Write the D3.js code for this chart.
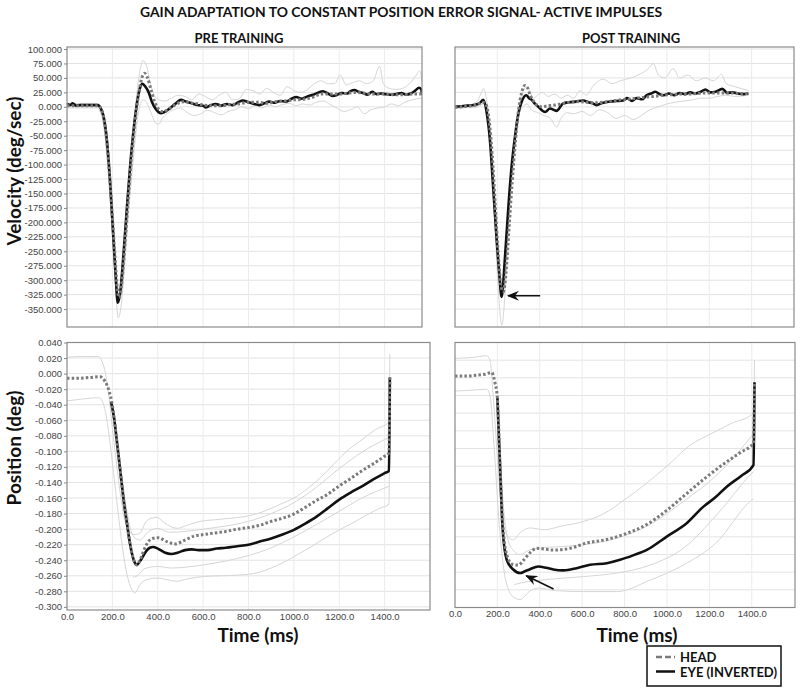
<!DOCTYPE html>
<html>
<head>
<meta charset="utf-8">
<script src="https://cdn.jsdelivr.net/npm/d3@7"></script>
<style>
  body { margin: 0; background: #fff; }
  svg { display: block; font-family: "Liberation Sans", Arial, sans-serif; }
  .bold { font-family: Lato, "Open Sans", sans-serif; font-weight: 700; fill: #111; }
</style>
</head>
<body>
<svg id="chart" width="800" height="690"></svg>
<script>
// ---- data (time ms, value) ----
var velTicks = [100, 75, 50, 25, 0, -25, -50, -75, -100, -125, -150, -175, -200, -225, -250, -275, -300, -325, -350];
var posTicks = [0.04, 0.02, 0, -0.02, -0.04, -0.06, -0.08, -0.1, -0.12, -0.14, -0.16, -0.18, -0.2, -0.22, -0.24, -0.26, -0.28, -0.3];
var postPosGrid = [0, -0.02, -0.04, -0.06, -0.08, -0.1, -0.12, -0.14, -0.16, -0.18, -0.2, -0.22, -0.24, -0.26];
var timeTicks = [0, 200, 400, 600, 800, 1000, 1200, 1400];

// PRE TRAINING velocity (deg/sec)
var preEyeVel = [[0,5],[15,3],[25,6],[40,2],[60,3],[90,3],[120,3],[135,3],[148,-2],[160,-15],[175,-55],[190,-130],[205,-230],[215,-295],[224,-339],[235,-320],[250,-250],[265,-170],[280,-95],[295,-35],[310,10],[322,33],[333,40],[345,35],[360,25],[375,8],[392,-4],[414,-11],[435,-8],[455,-2],[480,6],[502,12],[525,9],[550,6],[575,3],[600,2],[612,-1],[635,3],[656,5],[680,2],[705,5],[730,3],[755,8],[775,11],[800,8],[825,5],[848,3],[870,6],[892,9],[915,7],[940,10],[965,9],[990,14],[1010,17],[1035,14],[1060,18],[1085,21],[1110,25],[1128,27],[1150,23],[1170,19],[1187,20],[1210,24],[1235,23],[1250,27],[1268,29],[1285,26],[1305,24],[1325,21],[1345,26],[1365,22],[1385,23],[1405,22],[1425,21],[1452,22],[1475,24],[1495,21],[1515,23],[1535,28],[1552,33],[1562,30],[1565,21]];
var preHeadVel = [[0,2],[30,2],[60,2],[90,2],[120,2],[137,2],[150,-4],[165,-25],[180,-80],[195,-160],[210,-250],[222,-315],[230,-330],[240,-310],[255,-240],[270,-160],[285,-85],[300,-25],[315,20],[330,50],[342,58],[355,50],[370,30],[385,10],[400,-2],[420,-8],[440,-6],[460,-1],[480,4],[500,8],[520,9],[540,7],[560,6],[580,5],[600,3],[640,2],[680,2],[720,4],[760,5],[800,8],[840,8],[880,6],[920,9],[960,10],[1000,12],[1040,13],[1080,16],[1120,22],[1160,22],[1200,22],[1240,24],[1280,25],[1320,23],[1360,22],[1400,22],[1440,21],[1480,21],[1520,22],[1565,22]];
var preVelUpper = [[0,6],[60,6],[130,6],[150,0],[175,-40],[200,-180],[220,-300],[235,-300],[255,-220],[275,-120],[295,-30],[310,30],[325,70],[335,80],[350,72],[365,45],[385,20],[405,12],[430,10],[460,15],[490,20],[520,18],[550,12],[580,22],[610,18],[640,12],[670,20],[700,25],[730,12],[760,14],[790,30],[820,28],[850,22],[880,32],[910,25],[940,20],[970,35],[1000,28],[1030,25],[1060,30],[1090,40],[1120,45],[1150,40],[1180,40],[1205,55],[1230,38],[1260,42],[1290,45],[1320,40],[1350,45],[1378,70],[1395,40],[1420,32],[1450,30],[1480,32],[1510,40],[1540,55],[1555,62],[1565,45]];
var preVelLower = [[0,-2],[60,-2],[130,-2],[150,-12],[175,-80],[195,-190],[212,-300],[226,-365],[240,-340],[255,-270],[270,-190],[290,-100],[305,-40],[320,0],[335,12],[350,8],[370,-10],[390,-28],[405,-30],[420,-20],[440,-12],[470,-5],[500,-2],[530,-10],[560,-15],[590,-12],[620,-6],[650,-10],[680,-14],[710,-8],[740,-5],[770,0],[800,-3],[830,2],[860,-2],[890,3],[920,0],[950,4],[980,6],[1010,2],[1040,5],[1070,3],[1100,8],[1130,10],[1160,4],[1190,-2],[1220,-8],[1250,-5],[1280,0],[1310,-12],[1340,-5],[1370,-2],[1400,0],[1430,5],[1460,2],[1490,8],[1520,12],[1565,15]];

// POST TRAINING velocity (deg/sec)
var postEyeVel = [[0,0],[30,1],[60,2],[90,3],[115,6],[134,12],[150,-11],[165,-58],[181,-144],[197,-231],[209,-289],[220,-329],[236,-260],[252,-173],[267,-104],[283,-52],[299,-12],[315,9],[336,20],[350,15],[362,12],[378,5],[393,0],[425,-9],[448,-3],[479,-7],[511,6],[540,8],[570,9],[605,11],[630,8],[650,6],[668,3],[690,6],[710,8],[731,9],[760,10],[794,11],[813,15],[835,10],[857,15],[884,13],[904,20],[925,23],[946,26],[965,22],[985,20],[1010,23],[1035,20],[1060,24],[1085,22],[1110,25],[1135,23],[1160,26],[1182,30],[1205,25],[1230,26],[1262,31],[1285,24],[1310,25],[1335,23],[1360,22],[1385,23]];
var postHeadVel = [[0,-1],[60,1],[100,3],[130,8],[145,5],[160,-20],[175,-80],[190,-170],[205,-260],[218,-312],[228,-320],[240,-290],[255,-210],[270,-130],[285,-60],[300,-5],[315,25],[330,37],[342,33],[355,20],[370,10],[390,2],[410,0],[440,2],[470,3],[500,5],[540,8],[580,9],[620,8],[660,7],[700,8],[740,10],[780,12],[820,13],[860,15],[900,17],[940,18],[980,20],[1020,21],[1060,22],[1100,22],[1140,23],[1180,24],[1220,24],[1260,24],[1300,24],[1340,23],[1385,23]];
var postVelUpper = [[0,2],[60,3],[100,8],[125,25],[134,32],[145,20],[160,-20],[180,-120],[200,-240],[215,-300],[225,-310],[240,-270],[255,-180],[275,-90],[295,-20],[310,15],[325,30],[340,35],[355,25],[370,15],[390,20],[410,25],[440,18],[470,22],[500,15],[530,20],[560,15],[590,28],[620,20],[650,35],[700,48],[740,40],[780,45],[830,50],[880,58],[910,65],[936,75],[960,55],[990,50],[1030,66],[1060,50],[1100,55],[1140,45],[1180,50],[1220,45],[1258,56],[1280,40],[1320,35],[1385,28]];
var postVelLower = [[0,-2],[100,-1],[134,5],[150,-5],[165,-50],[185,-180],[205,-320],[221,-378],[235,-330],[250,-230],[265,-140],[285,-60],[300,-15],[320,0],[340,5],[360,-5],[390,-10],[420,-15],[450,-20],[480,-35],[500,-20],[530,-10],[560,-12],[600,-8],[640,-15],[680,-5],[720,-10],[760,-20],[800,-15],[840,-22],[880,-15],[920,-5],[960,0],[1000,5],[1040,8],[1080,10],[1120,12],[1160,15],[1200,15],[1240,18],[1280,20],[1320,18],[1385,20]];

// PRE TRAINING position (deg)
var preHeadPos = [[0,-0.006],[50,-0.006],[100,-0.005],[146,-0.004],[160,-0.007],[175,-0.014],[187,-0.024],[197,-0.036],[208,-0.058],[219,-0.085],[230,-0.113],[241,-0.141],[252,-0.168],[264,-0.192],[275,-0.214],[286,-0.231],[297,-0.242],[308,-0.246],[320,-0.241],[335,-0.230],[350,-0.220],[370,-0.213],[400,-0.211],[440,-0.216],[477,-0.219],[520,-0.214],[560,-0.209],[602,-0.207],[650,-0.205],[700,-0.203],[750,-0.200],[800,-0.198],[850,-0.195],[900,-0.190],[950,-0.186],[997,-0.181],[1050,-0.172],[1100,-0.163],[1150,-0.155],[1197,-0.145],[1250,-0.135],[1300,-0.125],[1350,-0.116],[1396,-0.107],[1419,-0.102],[1423,-0.004]];
var preEyePos = [[194,-0.036],[208,-0.058],[219,-0.085],[230,-0.113],[241,-0.141],[252,-0.168],[264,-0.192],[275,-0.214],[286,-0.231],[297,-0.242],[308,-0.246],[320,-0.242],[335,-0.235],[350,-0.228],[365,-0.224],[380,-0.223],[400,-0.225],[430,-0.230],[460,-0.232],[490,-0.230],[520,-0.227],[550,-0.226],[580,-0.227],[620,-0.227],[660,-0.225],[700,-0.224],[750,-0.222],[800,-0.220],[850,-0.216],[900,-0.212],[950,-0.207],[1000,-0.201],[1050,-0.193],[1100,-0.184],[1150,-0.173],[1200,-0.162],[1250,-0.153],[1300,-0.145],[1350,-0.136],[1400,-0.128],[1419,-0.125],[1423,-0.005]];
var prePosHeadUpper = [[0,0.021],[60,0.022],[140,0.022],[155,0.015],[170,0.0],[185,-0.03],[200,-0.07],[220,-0.12],[240,-0.165],[260,-0.195],[280,-0.205],[300,-0.207],[322,-0.205],[345,-0.192],[370,-0.186],[396,-0.185],[430,-0.192],[485,-0.199],[530,-0.195],[587,-0.190],[650,-0.188],[720,-0.186],[780,-0.184],[860,-0.178],[940,-0.168],[1000,-0.160],[1060,-0.148],[1120,-0.133],[1180,-0.115],[1240,-0.098],[1300,-0.085],[1360,-0.072],[1419,-0.062],[1423,0.025]];
var prePosHeadLower = [[0,-0.035],[60,-0.033],[140,-0.031],[155,-0.035],[170,-0.05],[190,-0.09],[210,-0.14],[230,-0.19],[250,-0.235],[270,-0.265],[288,-0.279],[300,-0.282],[320,-0.272],[352,-0.265],[400,-0.263],[440,-0.265],[485,-0.267],[530,-0.264],[600,-0.261],[680,-0.260],[760,-0.259],[840,-0.256],[900,-0.250],[960,-0.242],[1020,-0.232],[1080,-0.222],[1140,-0.211],[1200,-0.201],[1260,-0.192],[1320,-0.182],[1380,-0.173],[1419,-0.168],[1423,-0.02]];
var prePosEyeUpper = [[200,-0.045],[230,-0.105],[260,-0.17],[290,-0.208],[320,-0.214],[360,-0.203],[400,-0.199],[450,-0.204],[520,-0.203],[600,-0.200],[700,-0.196],[800,-0.190],[900,-0.180],[1000,-0.166],[1100,-0.146],[1200,-0.122],[1300,-0.101],[1419,-0.082]];
var prePosEyeLower = [[290,-0.262],[310,-0.260],[340,-0.251],[400,-0.248],[460,-0.250],[520,-0.249],[600,-0.246],[700,-0.241],[800,-0.234],[900,-0.224],[1000,-0.210],[1100,-0.194],[1200,-0.177],[1300,-0.160],[1419,-0.145]];

// POST TRAINING position (deg)
var postHeadPos = [[0,-0.018],[50,-0.018],[100,-0.017],[140,-0.016],[173,-0.014],[188,-0.025],[200,-0.043],[212,-0.117],[225,-0.185],[244,-0.220],[270,-0.231],[299,-0.232],[325,-0.226],[354,-0.218],[386,-0.213],[425,-0.214],[464,-0.215],[543,-0.213],[621,-0.207],[716,-0.203],[811,-0.196],[905,-0.186],[999,-0.170],[1093,-0.151],[1188,-0.132],[1282,-0.115],[1350,-0.104],[1408,-0.094],[1413,-0.025]];
var postEyePos = [[200,-0.043],[212,-0.117],[225,-0.192],[244,-0.226],[275,-0.237],[307,-0.241],[330,-0.239],[354,-0.2366],[393,-0.2336],[430,-0.235],[464,-0.237],[511,-0.238],[574,-0.2355],[637,-0.2317],[716,-0.2298],[779,-0.226],[840,-0.221],[905,-0.2148],[999,-0.1997],[1093,-0.1846],[1172,-0.1658],[1230,-0.155],[1282,-0.1432],[1350,-0.131],[1408,-0.1187],[1413,-0.025]];
var postPosHeadUpper = [[0,0.002],[80,0.003],[150,0.005],[165,0.0],[180,-0.04],[200,-0.11],[220,-0.17],[245,-0.198],[275,-0.2035],[300,-0.197],[354,-0.190],[420,-0.192],[500,-0.188],[600,-0.183],[700,-0.174],[800,-0.158],[900,-0.140],[1000,-0.120],[1100,-0.098],[1235,-0.080],[1300,-0.072],[1408,-0.060],[1413,0.0]];
var postPosHeadLower = [[0,-0.035],[80,-0.034],[150,-0.033],[165,-0.04],[185,-0.10],[210,-0.19],[240,-0.25],[275,-0.268],[307,-0.271],[350,-0.262],[393,-0.258],[480,-0.261],[606,-0.262],[763,-0.262],[920,-0.249],[1077,-0.232],[1235,-0.206],[1392,-0.160],[1408,-0.157]];
var postPosEyeUpper = [[205,-0.06],[230,-0.17],[260,-0.210],[307,-0.220],[350,-0.215],[393,-0.213],[500,-0.211],[606,-0.209],[763,-0.2016],[920,-0.186],[1077,-0.160],[1235,-0.130],[1392,-0.088],[1408,-0.083]];
var postPosEyeLower = [[280,-0.254],[315,-0.252],[448,-0.248],[606,-0.245],[763,-0.241],[920,-0.232],[1077,-0.213],[1235,-0.175],[1392,-0.130],[1408,-0.126]];

// arrow annotations [tail, tip]
var postVelArrow = [[402,-327],[250,-327]];
var postPosArrow = [[465,-0.259],[336,-0.244]];

// ---- layout ----
var svg = d3.select("#chart");
var fmtY = d3.formatLocale({decimal: ".", thousands: ",", grouping: [3], currency: ["", ""], minus: "-"}).format(".3f");
var fmtX = d3.format(".1f");

var panels = [
  {id: "tl", x0: 67, x1: 422, y0: 47, y1: 327, xDom: [0, 1565], yDom: [-381, 103.5], yTicks: velTicks, grid: velTicks, showY: true, showX: false,
   gray: [preVelUpper, preVelLower], head: preHeadVel, eye: preEyeVel},
  {id: "tr", x0: 455, x1: 794, y0: 47, y1: 327, xDom: [0, 1600], yDom: [-381, 103.5], yTicks: velTicks, grid: velTicks, showY: false, showX: false,
   gray: [postVelUpper, postVelLower], head: postHeadVel, eye: postEyeVel, arrow: postVelArrow},
  {id: "bl", x0: 67, x1: 430, y0: 342.5, y1: 610, xDom: [0, 1600], yDom: [-0.304, 0.04], yTicks: posTicks, grid: posTicks, showY: true, showX: true,
   gray: [prePosHeadUpper, prePosHeadLower, prePosEyeUpper, prePosEyeLower], head: preHeadPos, eye: preEyePos},
  {id: "br", x0: 455, x1: 795, y0: 342.5, y1: 607.5, xDom: [0, 1604], yDom: [-0.28, 0.02], yTicks: postPosGrid, grid: postPosGrid, showY: false, showX: true,
   gray: [postPosHeadUpper, postPosHeadLower, postPosEyeUpper, postPosEyeLower], head: postHeadPos, eye: postEyePos, arrow: postPosArrow}
];

var defs = svg.append("defs");
defs.append("marker")
    .attr("id", "arrowhead")
    .attr("viewBox", "0 0 12 10")
    .attr("refX", 11).attr("refY", 5)
    .attr("markerWidth", 12).attr("markerHeight", 10)
    .attr("markerUnits", "userSpaceOnUse")
    .attr("orient", "auto")
  .append("path")
    .attr("d", "M0,0 L12,5 L0,10 L4,5 Z")
    .attr("fill", "#111");

panels.forEach(function(p) {
  var x = d3.scaleLinear().domain(p.xDom).range([p.x0, p.x1]);
  var y = d3.scaleLinear().domain(p.yDom).range([p.y1, p.y0]);

  defs.append("clipPath").attr("id", "clip-" + p.id)
    .append("rect").attr("x", p.x0).attr("y", p.y0).attr("width", p.x1 - p.x0).attr("height", p.y1 - p.y0);

  var g = svg.append("g");

  // grid
  g.selectAll(".hg").data(p.grid).enter().append("line")
      .attr("x1", p.x0).attr("x2", p.x1)
      .attr("y1", function(d) { return y(d); }).attr("y2", function(d) { return y(d); })
      .attr("stroke", "#e3e3e3").attr("stroke-width", 1);
  g.selectAll(".vg").data(timeTicks.slice(1)).enter().append("line")
      .attr("x1", function(d) { return x(d); }).attr("x2", function(d) { return x(d); })
      .attr("y1", p.y0).attr("y2", p.y1)
      .attr("stroke", "#ececec").attr("stroke-width", 1);

  var line = d3.line()
      .x(function(d) { return x(d[0]); })
      .y(function(d) { return y(d[1]); })
      .curve(d3.curveMonotoneX);

  var plot = g.append("g").attr("clip-path", "url(#clip-" + p.id + ")");
  p.gray.forEach(function(s) {
    plot.append("path").attr("d", line(s))
        .attr("fill", "none").attr("stroke", "#d6d6d6").attr("stroke-width", 1);
  });
  plot.append("path").attr("d", line(p.eye))
      .attr("fill", "none").attr("stroke", "#111").attr("stroke-width", 2.6)
      .attr("stroke-linejoin", "round");
  plot.append("path").attr("d", line(p.head))
      .attr("fill", "none").attr("stroke", "#7a7a7a").attr("stroke-width", 3)
      .attr("stroke-dasharray", "2.5,2.2");

  if (p.arrow) {
    g.append("line")
        .attr("x1", x(p.arrow[0][0])).attr("y1", y(p.arrow[0][1]))
        .attr("x2", x(p.arrow[1][0])).attr("y2", y(p.arrow[1][1]))
        .attr("stroke", "#111").attr("stroke-width", 1.6)
        .attr("marker-end", "url(#arrowhead)");
  }

  // frame
  g.append("rect")
      .attr("x", p.x0).attr("y", p.y0)
      .attr("width", p.x1 - p.x0).attr("height", p.y1 - p.y0)
      .attr("fill", "none").attr("stroke", "#8a8a8a").attr("stroke-width", 1.2);

  if (p.showY) {
    var ya = g.append("g")
        .attr("transform", "translate(" + p.x0 + ",0)")
        .call(d3.axisLeft(y).tickValues(p.yTicks).tickFormat(fmtY).tickSize(3).tickPadding(2));
    ya.select(".domain").remove();
    ya.selectAll("line").attr("stroke", "#888");
    ya.selectAll("text").attr("fill", "#444").style("font-size", "9.5px")
        .style("font-family", "'Liberation Sans', Arial, sans-serif");
  }
  if (p.showX) {
    var xa = g.append("g")
        .attr("transform", "translate(0," + p.y1 + ")")
        .call(d3.axisBottom(x).tickValues(timeTicks).tickFormat(fmtX).tickSize(0).tickPadding(3));
    xa.select(".domain").remove();
    xa.selectAll("text").attr("fill", "#444").style("font-size", "9.5px")
        .style("font-family", "'Liberation Sans', Arial, sans-serif");
  }
});

// ---- titles ----
svg.append("text").attr("class", "bold")
    .attr("x", 401).attr("y", 17).attr("text-anchor", "middle")
    .attr("textLength", 522).attr("lengthAdjust", "spacingAndGlyphs")
    .style("font-size", "14px")
    .text("GAIN ADAPTATION TO CONSTANT POSITION ERROR SIGNAL- ACTIVE IMPULSES");
svg.append("text").attr("class", "bold")
    .attr("x", 239).attr("y", 43).attr("text-anchor", "middle")
    .style("font-size", "13px").text("PRE TRAINING");
svg.append("text").attr("class", "bold")
    .attr("x", 631).attr("y", 43).attr("text-anchor", "middle")
    .style("font-size", "13px").text("POST TRAINING");

svg.append("text").attr("class", "bold")
    .attr("transform", "translate(21,171) rotate(-90)").attr("text-anchor", "middle")
    .style("font-size", "19px").text("Velocity (deg/sec)");
svg.append("text").attr("class", "bold")
    .attr("transform", "translate(21,448) rotate(-90)").attr("text-anchor", "middle")
    .style("font-size", "19px").text("Position (deg)");

svg.append("text").attr("class", "bold")
    .attr("x", 258).attr("y", 642).attr("text-anchor", "middle")
    .style("font-size", "19px").text("Time (ms)");
svg.append("text").attr("class", "bold")
    .attr("x", 637).attr("y", 642).attr("text-anchor", "middle")
    .style("font-size", "19px").text("Time (ms)");

// ---- legend ----
var legend = svg.append("g");
legend.append("rect")
    .attr("x", 647).attr("y", 646).attr("width", 134).attr("height", 40)
    .attr("fill", "#fff").attr("stroke", "#111").attr("stroke-width", 1.5);
legend.append("line")
    .attr("x1", 656).attr("x2", 675).attr("y1", 657).attr("y2", 657)
    .attr("stroke", "#7a7a7a").attr("stroke-width", 2.5).attr("stroke-dasharray", "6,3");
legend.append("line")
    .attr("x1", 656).attr("x2", 675).attr("y1", 671.5).attr("y2", 671.5)
    .attr("stroke", "#111").attr("stroke-width", 2.5);
legend.append("text").attr("class", "bold")
    .attr("x", 680).attr("y", 662).style("font-size", "13px").text("HEAD");
legend.append("text").attr("class", "bold")
    .attr("x", 680).attr("y", 677).style("font-size", "13px").text("EYE (INVERTED)");
</script>
</body>
</html>
